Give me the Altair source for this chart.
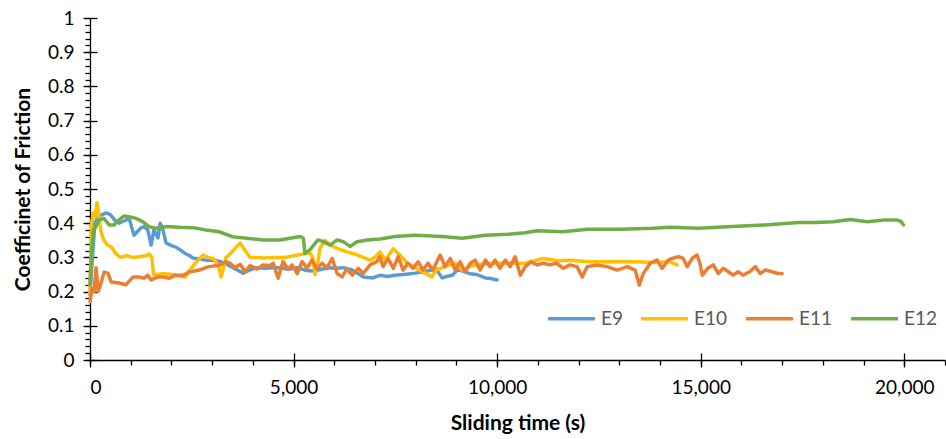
import altair as alt
import pandas as pd

# ---------------- data ----------------
series_names = ["E9", "E10", "E11", "E12"]
series_colors = ["#5B9BD5", "#FFC000", "#ED7D31", "#70AD47"]

e9_t = [0, 60, 120, 200, 300, 400, 500, 600, 710, 800,
        900, 960, 1020, 1080, 1160, 1250, 1330, 1420, 1500, 1540,
        1570, 1620, 1670, 1720, 1770, 1870, 1990, 2110, 2240, 2360,
        2450, 2530, 2700, 2850, 3020, 3200, 3350, 3510, 3640, 3760,
        3900, 4100, 4300, 4500, 4670, 4850, 5090, 5300, 5500, 5700,
        5900, 6050, 6220, 6400, 6550, 6710, 6950, 7130, 7300, 7490,
        7700, 7990, 8200, 8400, 8500, 8560, 8650, 8780, 8900, 9020,
        9100, 9210, 9340, 9500, 9710, 9850, 10000]
e9_v = [0.19, 0.30, 0.40, 0.42, 0.425, 0.43, 0.425, 0.41, 0.40, 0.405,
        0.41, 0.415, 0.39, 0.365, 0.375, 0.386, 0.39, 0.38, 0.336, 0.36,
        0.38, 0.37, 0.357, 0.40, 0.39, 0.342, 0.335, 0.33, 0.32, 0.31,
        0.305, 0.298, 0.295, 0.292, 0.292, 0.288, 0.28, 0.27, 0.262, 0.254,
        0.262, 0.27, 0.268, 0.27, 0.27, 0.265, 0.27, 0.262, 0.26, 0.266,
        0.27, 0.268, 0.27, 0.265, 0.255, 0.243, 0.24, 0.248, 0.244, 0.248,
        0.25, 0.254, 0.258, 0.263, 0.267, 0.255, 0.24, 0.245, 0.248, 0.263,
        0.262, 0.258, 0.252, 0.25, 0.24, 0.238, 0.234]

e10_t = [0, 40, 80, 130, 170, 210, 270, 340, 440, 530,
         640, 750, 900, 1050, 1200, 1380, 1450, 1520, 1560, 1620,
         1800, 2040, 2200, 2350, 2430, 2600, 2780, 2900, 3020, 3150,
         3220, 3280, 3340, 3440, 3590, 3690, 3810, 3930, 4100, 4250,
         4500, 4800, 5090, 5400, 5470, 5530, 5600, 5650, 5770, 5900,
         6100, 6310, 6500, 6710, 6880, 7000, 7120, 7250, 7450, 7610,
         7790, 7990, 8230, 8400, 8500, 8720, 8970, 9140, 9300, 9460,
         9700, 9880, 10270, 10690, 11130, 11500, 11790, 12200, 12600, 13000,
         13440, 13800, 14250, 14420]
e10_v = [0.19, 0.40, 0.43, 0.42, 0.46, 0.43, 0.375, 0.35, 0.335, 0.33,
         0.31, 0.30, 0.305, 0.30, 0.302, 0.305, 0.31, 0.30, 0.25, 0.25,
         0.252, 0.25, 0.245, 0.243, 0.26, 0.285, 0.307, 0.30, 0.297, 0.278,
         0.243, 0.27, 0.30, 0.31, 0.33, 0.342, 0.32, 0.30, 0.30, 0.298,
         0.30, 0.30, 0.307, 0.313, 0.30, 0.25, 0.29, 0.327, 0.35, 0.336,
         0.325, 0.316, 0.31, 0.30, 0.292, 0.30, 0.316, 0.292, 0.325, 0.307,
         0.283, 0.27, 0.254, 0.243, 0.263, 0.273, 0.283, 0.263, 0.272, 0.278,
         0.28, 0.283, 0.283, 0.283, 0.297, 0.29, 0.292, 0.288, 0.287, 0.288,
         0.287, 0.285, 0.287, 0.278]

e11_t = [0, 50, 100, 150, 200, 270, 345, 440, 520, 710,
         880, 1060, 1200, 1330, 1420, 1500, 1670, 1790, 1950, 2110,
         2290, 2430, 2680, 2920, 3170, 3340, 3440, 3560, 3690, 3810,
         3930, 4100, 4250, 4420, 4500, 4620, 4740, 4860, 4960, 5090,
         5210, 5330, 5450, 5570, 5700, 5820, 5950, 6070, 6190, 6310,
         6440, 6590, 6710, 6880, 7050, 7120, 7200, 7320, 7450, 7570,
         7690, 7810, 7930, 8060, 8180, 8300, 8420, 8600, 8720, 8850,
         8970, 9090, 9210, 9340, 9460, 9580, 9710, 9830, 9950, 10070,
         10200, 10320, 10440, 10570, 10690, 10830, 10980, 11130, 11300, 11460,
         11620, 11790, 11960, 12090, 12210, 12460, 12700, 12950, 13200, 13390,
         13490, 13590, 13760, 13930, 14050, 14200, 14300, 14450, 14570, 14670,
         14790, 14910, 14980, 15040, 15170, 15310, 15430, 15550, 15680, 15800,
         15920, 16040, 16200, 16340, 16460, 16590, 16750, 16900, 17000]
e11_v = [0.17, 0.21, 0.20, 0.27, 0.20, 0.225, 0.257, 0.254, 0.228, 0.225,
         0.22, 0.243, 0.243, 0.239, 0.248, 0.234, 0.243, 0.243, 0.239, 0.248,
         0.248, 0.257, 0.263, 0.273, 0.277, 0.287, 0.283, 0.27, 0.28, 0.258,
         0.276, 0.266, 0.278, 0.276, 0.283, 0.239, 0.288, 0.266, 0.278, 0.253,
         0.288, 0.268, 0.293, 0.266, 0.283, 0.27, 0.297, 0.253, 0.243, 0.266,
         0.248, 0.268, 0.253, 0.278, 0.288, 0.302, 0.273, 0.297, 0.268, 0.302,
         0.263, 0.283, 0.268, 0.287, 0.263, 0.283, 0.263, 0.307, 0.273, 0.297,
         0.263, 0.287, 0.258, 0.283, 0.292, 0.263, 0.292, 0.273, 0.292, 0.268,
         0.292, 0.273, 0.302, 0.248, 0.273, 0.287, 0.278, 0.283, 0.278, 0.283,
         0.268, 0.278, 0.273, 0.243, 0.273, 0.278, 0.273, 0.263, 0.273, 0.263,
         0.219, 0.253, 0.283, 0.292, 0.268, 0.292, 0.297, 0.302, 0.297, 0.273,
         0.297, 0.307, 0.282, 0.248, 0.268, 0.278, 0.253, 0.268, 0.258, 0.248,
         0.258, 0.248, 0.258, 0.273, 0.253, 0.263, 0.258, 0.253, 0.253]

e12_t = [0, 40, 80, 150, 220, 340, 470, 590, 710, 830,
         960, 1130, 1300, 1450, 1620, 1870, 2190, 2530, 2850, 3170,
         3510, 3850, 4250, 4670, 4910, 5160, 5240, 5280, 5400, 5530,
         5600, 5730, 5900, 6070, 6220, 6390, 6560, 6810, 7120, 7490,
         7990, 8650, 9140, 9710, 10270, 10690, 10980, 11620, 12210, 13020,
         13830, 14250, 14950, 15770, 16590, 17400, 17810, 18260, 18670, 19090,
         19490, 19830, 19920, 19980]
e12_v = [0.22, 0.32, 0.38, 0.39, 0.409, 0.414, 0.395, 0.395, 0.409, 0.421,
         0.419, 0.414, 0.404, 0.39, 0.385, 0.39, 0.388, 0.387, 0.38, 0.375,
         0.36, 0.356, 0.351, 0.351, 0.356, 0.361, 0.356, 0.312, 0.322, 0.341,
         0.351, 0.346, 0.336, 0.351, 0.346, 0.332, 0.346, 0.351, 0.354, 0.361,
         0.365, 0.361, 0.356, 0.365, 0.368, 0.372, 0.378, 0.375, 0.382, 0.382,
         0.385, 0.388, 0.385, 0.39, 0.395, 0.402, 0.402, 0.404, 0.411, 0.404,
         0.409, 0.409, 0.405, 0.395]

x_major = [0, 5000, 10000, 15000, 20000]
x_minor = [i * 1000 for i in range(22)]
y_major = [round(i * 0.1, 2) for i in range(11)]
y_minor = [round(i * 0.02, 2) for i in range(51)]

rows = []
for name, ts, vs in [("E9", e9_t, e9_v), ("E10", e10_t, e10_v),
                     ("E11", e11_t, e11_v), ("E12", e12_t, e12_v)]:
    for t, v in zip(ts, vs):
        rows.append({"series": name, "time": t, "cof": v})
df = pd.DataFrame(rows)

# ---------------- chart ----------------
W, H = 855, 342
FONT = "Lato"
xscale = alt.Scale(domain=[0, 21000], nice=False, zero=False)
yscale = alt.Scale(domain=[0, 1], nice=False)

color = alt.Color(
    "series:N",
    scale=alt.Scale(domain=series_names, range=series_colors),
    legend=alt.Legend(
        orient="none", legendX=456, legendY=275, direction="horizontal",
        title=None, symbolType="stroke", symbolSize=2209, symbolStrokeWidth=3.5,
        labelFont=FONT, labelFontSize=19, labelColor="#595959",
        columnPadding=11, labelOffset=4, padding=0,
    ),
)

base = alt.Chart(df)

main_x_axis = alt.Axis(
    values=x_major, labelExpr="format(datum.value, ',')",
    tickSize=7, tickWidth=1.3, tickColor="black",
    domainColor="black", domainWidth=1.3, labelFont=FONT, labelFontSize=19,
    labelColor="black", labelPadding=11, title="Sliding time (s)",
    titleFont=FONT, titleFontSize=21, titleFontWeight="bold", titleColor="black",
    titlePadding=15, grid=False,
)
main_y_axis = alt.Axis(
    values=y_major, labelExpr="format(datum.value, '.1~f')",
    tickSize=7, tickWidth=1.3, tickColor="black",
    domainColor="black", domainWidth=1.3, labelFont=FONT, labelFontSize=19,
    labelColor="black", labelPadding=9, title="Coefficinet of Friction",
    titleFont=FONT, titleFontSize=21, titleFontWeight="bold", titleColor="black",
    titlePadding=14, grid=False,
)

layers = []
for i, name in enumerate(series_names):
    xa = main_x_axis if i == 0 else None
    ya = main_y_axis if i == 0 else None
    layers.append(
        base.transform_filter(alt.datum.series == name)
        .mark_line(strokeWidth=3.5, strokeJoin="round", strokeCap="round")
        .encode(
            x=alt.X("time:Q", scale=xscale, axis=xa),
            y=alt.Y("cof:Q", scale=yscale, axis=ya),
            color=color,
        )
    )

def tick_layer(xaxis, yaxis):
    return base.mark_point(opacity=0).encode(
        x=alt.X("time:Q", scale=xscale, axis=xaxis),
        y=alt.Y("cof:Q", scale=yscale, axis=yaxis),
    )

common = dict(labels=False, domain=False, title=None, grid=False,
              tickColor="black", tickWidth=1.3)
layers.append(tick_layer(
    alt.Axis(orient="bottom", values=x_minor, tickSize=5, **common),
    alt.Axis(orient="left", values=y_minor, tickSize=5, **common),
))
layers.append(tick_layer(
    alt.Axis(orient="top", offset=-H, values=x_major, tickSize=7, **common),
    alt.Axis(orient="right", offset=-W, values=y_major, tickSize=7, **common),
))

chart = (
    alt.layer(*layers)
    .resolve_axis(x="independent", y="independent")
    .properties(
        width=W, height=H, autosize="none",
        padding={"left": 90, "top": 18, "right": 1, "bottom": 79},
    )
    .configure_view(stroke=None)
)

chart.save("out.html", embed_options={"renderer": "svg", "actions": False})
